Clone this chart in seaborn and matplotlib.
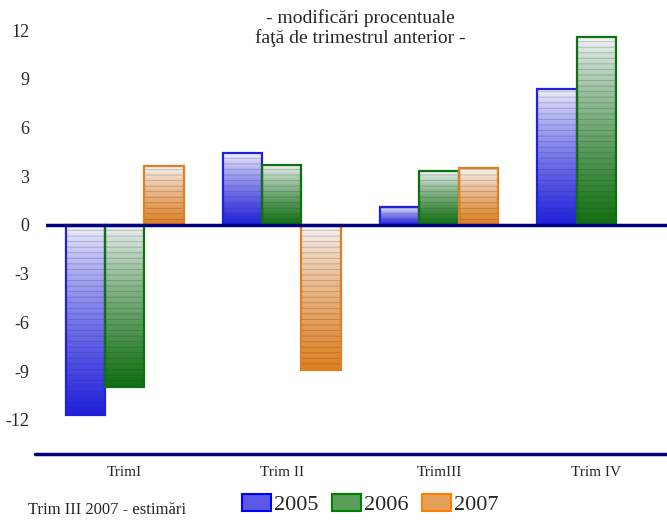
import numpy as np
import pandas as pd
import seaborn as sns
import matplotlib.pyplot as plt
from matplotlib.colors import to_rgb
from matplotlib.patches import Rectangle, Patch

quarters = ['TrimI', 'Trim II', 'TrimIII', 'Trim IV']
years = ['2005', '2006', '2007']
v2005 = [-11.7, 4.4, 1.1, 8.4]
v2006 = [-10.0, 3.7, 3.3, 11.6]
v2007 = [3.6, -8.9, 3.5, np.nan]
yticks = [12, 9, 6, 3, 0, -3, -6, -9, -12]
colors = {'2005': '#0000ff', '2006': '#008000', '2007': '#ff8000'}

df = pd.DataFrame({
    'trim': quarters * 3,
    'an': ['2005'] * 4 + ['2006'] * 4 + ['2007'] * 4,
    'val': v2005 + v2006 + v2007,
})

sns.set_style('white')
plt.rcParams['font.family'] = ['Liberation Serif', 'DejaVu Serif']
plt.rcParams['hatch.linewidth'] = 0.6

fig = plt.figure(figsize=(6.67, 5.21), dpi=100)
ax = fig.add_axes([46 / 667, 67 / 521, 1 - 46 / 667, 1 - 67 / 521])

sns.barplot(data=df, x='trim', y='val', hue='an', hue_order=years, order=quarters,
            palette=colors, width=0.75, ax=ax, legend=False, errorbar=None)

# gradient fill + horizontal stripes for every bar
bars = [p for p in ax.patches if p.get_height() != 0 and not np.isnan(p.get_height())]
for p in bars:
    col = np.array(to_rgb(p.get_facecolor()))
    x, w = p.get_x(), p.get_width()
    y0, y1 = sorted([p.get_y(), p.get_y() + p.get_height()])
    t = np.linspace(0, 1, 100)[:, None] ** 0.75
    grad = (1 - t) * np.array([0.97, 0.97, 1.0]) + t * col
    grad = grad[:, None, :].repeat(2, axis=1)
    im = ax.imshow(grad[::-1], extent=[x, x + w, y0, y1], origin='lower',
                   aspect='auto', zorder=2, interpolation='bilinear')
    im.set_clip_path(p)
    ax.add_patch(Rectangle((x, y0), w, y1 - y0, facecolor='none', hatch='---',
                           edgecolor=(0.2, 0.2, 0.2, 0.28), linewidth=0, zorder=3))
    p.set_facecolor('none')
    p.set_edgecolor(col)
    p.set_linewidth(1.6)
    p.set_zorder(4)

ax.axhline(0, color='#000080', lw=2.5, zorder=5)
ax.plot([-0.017, 1], [0, 0], transform=ax.transAxes, color='#000080', lw=2.5,
        clip_on=False, zorder=5)

ax.set_xlim(-0.5, 3.45)
ax.set_ylim(-14.1, 13.85)
ax.set_yticks(yticks)
ax.set_yticklabels([str(v) for v in yticks], fontsize=13)
ax.tick_params(axis='y', length=0, pad=12)
ax.tick_params(axis='x', length=0, pad=9, labelsize=11)
ax.set_xlabel('')
ax.set_ylabel('')
for s in ax.spines.values():
    s.set_visible(False)

ax.text(0.506, 0.98, '- modificări procentuale\nfaţă de trimestrul anterior -',
        transform=ax.transAxes, ha='center', va='top', fontsize=14, linespacing=1.15)

handles = [Patch(facecolor=np.array(to_rgb(colors[y])) * 0.55 + 0.35, edgecolor=colors[y],
                 linewidth=1.5, label=y) for y in years]
fig.legend(handles=handles, loc='center', bbox_to_anchor=(0.555, 0.031), ncol=3,
           frameon=False, fontsize=16, handlelength=1.3, handleheight=0.8,
           handletextpad=0.15, columnspacing=0.6)

fig.text(0.042, 0.022, 'Trim III 2007 - estimări', fontsize=12, va='center', ha='left')

fig.savefig('out.png', dpi=100)
